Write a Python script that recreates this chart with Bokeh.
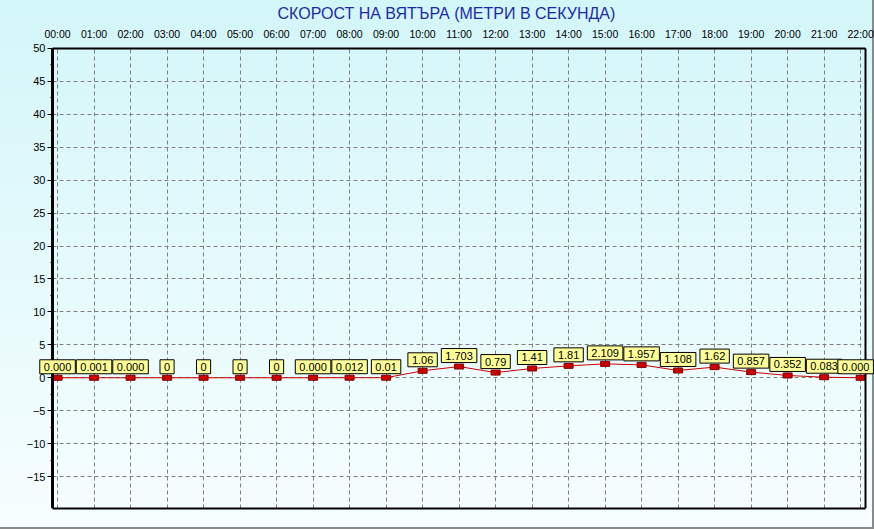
from bokeh.plotting import figure
from bokeh.models import ColumnDataSource, LinearAxis, Range1d, FixedTicker, Label
from bokeh.embed import file_html
from bokeh.resources import INLINE

# hourly wind speed (m/s)
hours = list(range(23))
hour_labels = ["%02d:00" % h for h in hours]
speed = [0.000, 0.001, 0.000, 0, 0, 0, 0, 0.000, 0.012, 0.01, 1.06, 1.703,
         0.79, 1.41, 1.81, 2.109, 1.957, 1.108, 1.62, 0.857, 0.352, 0.083, 0.000]
speed_labels = ["0.000", "0.001", "0.000", "0", "0", "0", "0", "0.000",
                "0.012", "0.01", "1.06", "1.703", "0.79", "1.41", "1.81",
                "2.109", "1.957", "1.108", "1.62", "0.857", "0.352", "0.083",
                "0.000"]
y_ticks = [50, 45, 40, 35, 30, 25, 20, 15, 10, 5, 0, -5, -10, -15]

FONT = "Liberation Sans"

# chart box; the frame is a bit larger so that edge labels are not clipped
X0, X1 = -0.14, 22.13
Y0, Y1 = -19.85, 50

source = ColumnDataSource(dict(hour=hours, speed=speed))

p = figure(width=874, height=529, output_backend="svg", toolbar_location=None,
           x_range=Range1d(-0.96, 22.38), y_range=Range1d(Y0, 51.06),
           x_axis_location=None, y_axis_location=None,
           min_border_left=22, min_border_right=0, min_border_top=40,
           min_border_bottom=21)

# vertical gradient behind the whole chart
p.styles = {"background": "linear-gradient(to bottom, #d3f6f9, #f7feff)",
            "box-shadow": "inset -2px -2px 0 0 #8a8a8a"}
p.background_fill_alpha = 0
p.border_fill_alpha = 0
p.outline_line_color = None

p.title.text = "СКОРОСТ НА ВЯТЪРА (МЕТРИ В СЕКУНДА)"
p.title.align = "left"
p.title.offset = 255
p.title.text_font = FONT
p.title.text_font_size = "16px"
p.title.text_font_style = "normal"
p.title.text_color = "#1c2aa8"
p.title.standoff = 5

top_axis = LinearAxis(ticker=FixedTicker(ticks=hours),
                      major_label_overrides=dict(zip(hours, hour_labels)))
top_axis.axis_line_color = None
top_axis.major_tick_out = 0
top_axis.major_tick_in = 0
top_axis.minor_tick_out = 0
top_axis.major_label_standoff = 2
top_axis.major_label_text_font = FONT
top_axis.major_label_text_font_size = "10.5px"
top_axis.major_label_text_color = "black"
p.add_layout(top_axis, "above")

left_axis = LinearAxis(ticker=FixedTicker(ticks=y_ticks,
                                          minor_ticks=[t + 2.5 for t in y_ticks]),
                       fixed_location=X0, bounds=(Y0, Y1))
left_axis.axis_line_width = 3
left_axis.axis_line_color = "black"
left_axis.major_tick_out = 5
left_axis.major_tick_in = 0
left_axis.minor_tick_out = 2
left_axis.minor_tick_in = 0
left_axis.major_label_standoff = 2
left_axis.major_label_text_font = FONT
left_axis.major_label_text_font_size = "11px"
left_axis.major_label_text_color = "black"
p.add_layout(left_axis, "left")

# plain border lines of the chart box
right_line = LinearAxis(fixed_location=X1, bounds=(Y0, Y1),
                        ticker=FixedTicker(ticks=[]),
                        major_tick_out=0, minor_tick_out=0,
                        axis_line_color="black", axis_line_width=2)
p.add_layout(right_line, "right")
bottom_line = LinearAxis(bounds=(X0, X1), ticker=FixedTicker(ticks=[]),
                         major_tick_out=0, minor_tick_out=0,
                         axis_line_color="black", axis_line_width=2)
p.add_layout(bottom_line, "below")
top_line = LinearAxis(fixed_location=Y1, bounds=(X0, X1),
                      ticker=FixedTicker(ticks=[]),
                      major_tick_out=0, minor_tick_out=0,
                      axis_line_color="black", axis_line_width=2)
p.add_layout(top_line, "below")

p.xgrid.ticker = FixedTicker(ticks=hours)
p.xgrid.cross_bounds = (Y0, Y1)
p.ygrid.ticker = FixedTicker(ticks=y_ticks)
p.ygrid.cross_bounds = (X0, X1)
for g in (p.xgrid, p.ygrid):
    g.grid_line_color = "#808080"
    g.grid_line_dash = "4 3"
    g.grid_line_width = 1

p.line("hour", "speed", source=source, line_color="#cc0000", line_width=1)
p.rect("hour", "speed", width=9, height=5, width_units="screen",
       height_units="screen", source=source, fill_color="#cc0000",
       line_color="#800000")

# yellow value boxes above each point
for h, s, txt in zip(hours, speed, speed_labels):
    p.add_layout(Label(x=h, y=s, text=txt, text_align="center",
                       text_baseline="bottom", y_offset=4,
                       x_offset=-5 if h == hours[-1] else 0,
                       text_font=FONT, text_font_size="11px",
                       text_color="black", background_fill_color="#ffff99",
                       border_line_color="black", border_line_width=1,
                       padding=(4, 3)))

open("out.html", "w").write(file_html(p, INLINE))
